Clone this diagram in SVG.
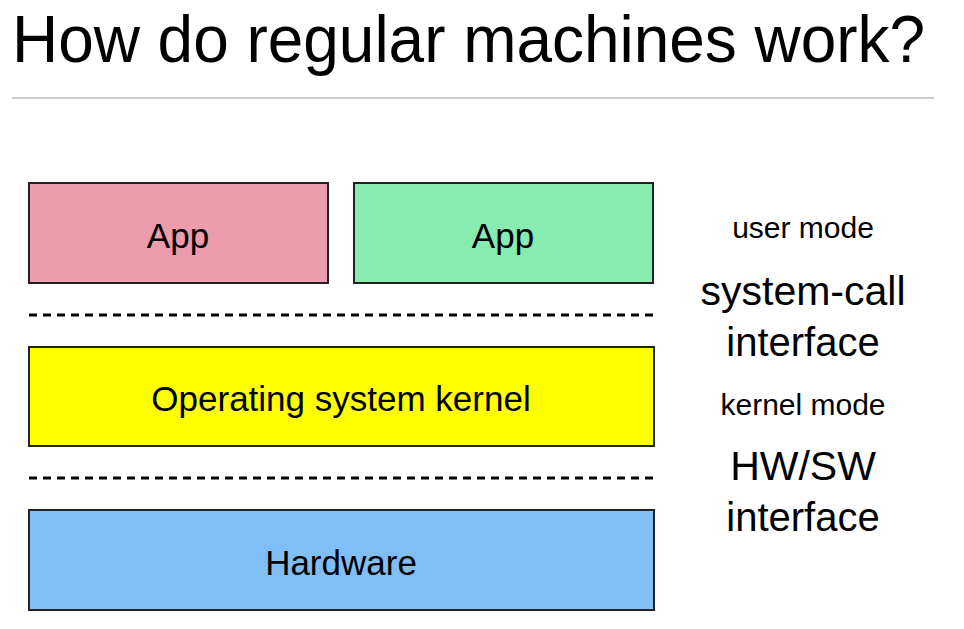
<svg xmlns="http://www.w3.org/2000/svg" width="964" height="629" viewBox="0 0 964 629">
<style>
text{font-family:"Liberation Sans",Arial,sans-serif;fill:#000}
.box{stroke:#222;stroke-width:2}
.lbl{font-size:35px;text-anchor:middle}
.side{text-anchor:middle}
.dash{stroke:#000;stroke-width:3;stroke-dasharray:8 6;fill:none}
</style>
<rect width="964" height="629" fill="#fff"/>
<text x="12" y="62" font-size="66" textLength="913" lengthAdjust="spacingAndGlyphs">How do regular machines work?</text>
<line x1="12" y1="98" x2="934" y2="98" stroke="#cccccc" stroke-width="2"/>
<g id="connectors">
<line class="dash" x1="29" y1="315" x2="655" y2="315"/>
<line class="dash" x1="29" y1="478" x2="655" y2="478"/>
</g>
<g id="app1">
<rect class="box" x="29" y="183" width="299" height="100" fill="#ED9CAD"/>
<text class="lbl" x="178" y="248">App</text>
</g>
<g id="app2">
<rect class="box" x="354" y="183" width="299" height="100" fill="#88EBB0"/>
<text class="lbl" x="503" y="248">App</text>
</g>
<g id="kernel">
<rect class="box" x="29" y="347" width="625" height="99" fill="#FFFF00"/>
<text class="lbl" x="341" y="411">Operating system kernel</text>
</g>
<g id="hardware">
<rect class="box" x="29" y="510" width="625" height="100" fill="#80BEF8"/>
<text class="lbl" x="341" y="575">Hardware</text>
</g>
<g id="labels">
<text class="side" x="803" y="238" font-size="30" fill="#333">user mode</text>
<text class="side" x="803" y="305" font-size="41">system-call</text>
<text class="side" x="803" y="356" font-size="40">interface</text>
<text class="side" x="803" y="415" font-size="30" fill="#333">kernel mode</text>
<text class="side" x="803" y="480" font-size="41">HW/SW</text>
<text class="side" x="803" y="531" font-size="40">interface</text>
</g>
</svg>
